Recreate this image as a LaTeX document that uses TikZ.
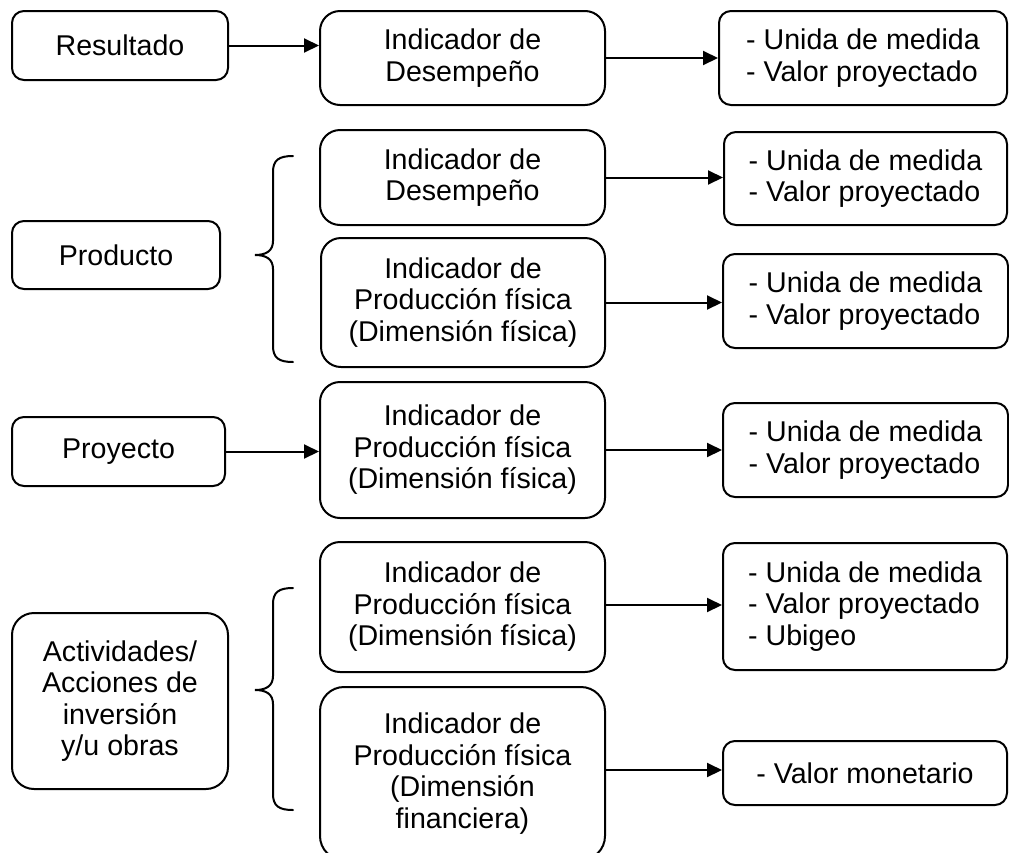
\documentclass[tikz,border=0pt]{standalone}
\usepackage{fontspec}
\setmainfont{Liberation Sans}
\usetikzlibrary{arrows.meta}
\begin{document}
\begin{tikzpicture}[x=1pt,y=-1pt,
  box/.style={draw, line width=2pt, rounded corners=12pt, align=center, inner sep=0pt,
    font=\fontsize{28.6}{31.5}\selectfont},
  bigbox/.style={box, rounded corners=20pt},
  lbox/.style={box, align=left},
  arr/.style={line width=2pt, -{Triangle[length=15pt,width=14pt]}},
  brc/.style={line width=2pt, line cap=round}]
\useasboundingbox (0,0) rectangle (1009,852);
\clip (0,0) rectangle (1009,852);
% left column
\node[box, minimum width=216pt, minimum height=69pt] (res) at (120,45.5) {Resultado};
\node[box, minimum width=208pt, minimum height=68pt] (prod) at (116,255) {Producto};
\node[box, minimum width=213pt, minimum height=69pt] (proy) at (118.5,451.5) {Proyecto};
\node[box, rounded corners=22pt, minimum width=216pt, minimum height=176pt] (act) at (120,701) {Actividades/\\Acciones de\\inversión\\y/u obras};
% middle column
\node[bigbox, minimum width=285pt, minimum height=94pt] (ind1) at (462.5,58) {Indicador de\\Desempeño};
\node[bigbox, minimum width=285pt, minimum height=95pt] (ind2) at (462.5,177.5) {Indicador de\\Desempeño};
\node[bigbox, minimum width=284pt, minimum height=129pt] (ind3) at (463,302.5) {Indicador de\\Producción física\\(Dimensión física)};
\node[bigbox, minimum width=285pt, minimum height=136pt] (ind4) at (462.5,450) {Indicador de\\Producción física\\(Dimensión física)};
\node[bigbox, minimum width=285pt, minimum height=130pt] (ind5) at (462.5,607) {Indicador de\\Producción física\\(Dimensión física)};
\node[bigbox, rounded corners=24pt, minimum width=285pt, minimum height=173pt] (ind6) at (462.5,773.5) {Indicador de\\Producción física\\(Dimensión\\financiera)};
% right column
\node[lbox, minimum width=288pt, minimum height=94pt] (u1) at (863,58) {- Unida de medida\\- Valor proyectado};
\node[lbox, minimum width=283pt, minimum height=93pt] (u2) at (865.5,178.5) {- Unida de medida\\- Valor proyectado};
\node[lbox, minimum width=285pt, minimum height=94pt] (u3) at (865.5,301) {- Unida de medida\\- Valor proyectado};
\node[lbox, minimum width=285pt, minimum height=94pt] (u4) at (865.5,450) {- Unida de medida\\- Valor proyectado};
\node[lbox, minimum width=284pt, minimum height=127pt] (u5) at (865,606.5) {- Unida de medida\\- Valor proyectado\\- Ubigeo};
\node[lbox, minimum width=284pt, minimum height=64pt] (u6) at (865,773) {- Valor monetario};
% arrows
\draw[arr] (res.east) -- (res.east -| ind1.west);
\draw[arr] (ind1.east) -- (ind1.east -| u1.west);
\draw[arr] (ind2.east) -- (ind2.east -| u2.west);
\draw[arr] (ind3.east) -- (ind3.east -| u3.west);
\draw[arr] (proy.east) -- (proy.east -| ind4.west);
\draw[arr] (ind4.east) -- (ind4.east -| u4.west);
\draw[arr] (ind5.east |- 605,605) -- (u5.west |- 605,605);
\draw[arr] (ind6.east |- 770,770) -- (u6.west |- 770,770);
% braces
\coordinate (b1t) at (293,156);
\coordinate (b1b) at (293,362);
\coordinate (b1m) at (255,255);
\draw[brc] (b1t) .. controls (279,156) and (273,160) .. (273,172)
  -- (273,241) .. controls (273,251) and (266,255) .. (b1m)
  .. controls (266,255) and (273,259) .. (273,269)
  -- (273,346) .. controls (273,358) and (279,362) .. (b1b);
\coordinate (b2t) at (293,588);
\coordinate (b2b) at (293,810);
\coordinate (b2m) at (255,690);
\draw[brc] (b2t) .. controls (279,588) and (273,592) .. (273,604)
  -- (273,676) .. controls (273,686) and (266,690) .. (b2m)
  .. controls (266,690) and (273,694) .. (273,704)
  -- (273,794) .. controls (273,806) and (279,810) .. (b2b);
\end{tikzpicture}
\end{document}
